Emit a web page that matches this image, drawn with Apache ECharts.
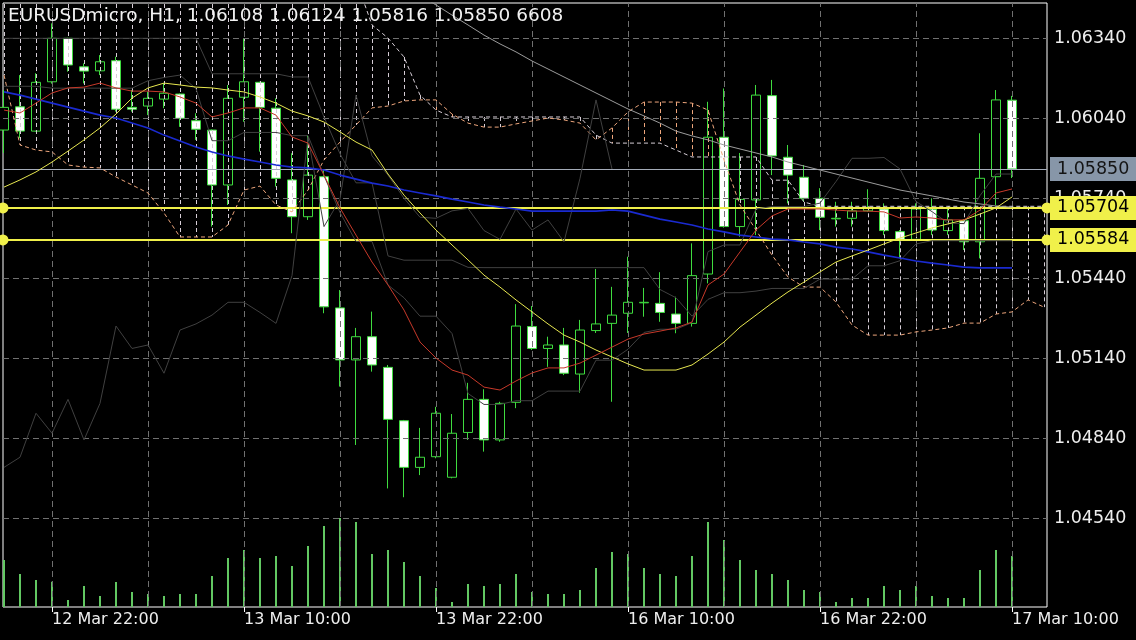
<!DOCTYPE html>
<html><head><meta charset="utf-8">
<script src="https://cdn.jsdelivr.net/npm/echarts@6/dist/echarts.min.js"></script>
<style>html,body{margin:0;padding:0;background:#000;}#c{width:1136px;height:640px;}</style>
</head><body><div id="c"></div>
<script>
// ---------- data (hourly bars, index 0..63) ----------
const symbolName = 'EURUSDmicro';
const timeframe = 'H1';
const opens = [1.05996,1.06083,1.05992,1.06177,1.06340,1.06233,1.06218,1.06256,1.06081,1.06086,
1.06112,1.06131,1.06031,1.05996,1.05790,1.06119,1.06175,1.06078,1.05809,1.05671,
1.05821,1.05329,1.05134,1.05221,1.05106,1.04906,1.04731,1.04771,1.04694,1.04862,
1.04986,1.04834,1.04975,1.05259,1.05177,1.05190,1.05081,1.05244,1.05271,1.05309,
1.05348,1.05346,1.05306,1.05271,1.05456,1.05969,1.05634,1.05734,1.06125,1.05894,
1.05819,1.05740,1.05663,1.05665,1.05693,1.05700,1.05615,1.05586,1.05699,1.05619,
1.05656,1.05577,1.05821,1.06108];
const highs = [1.06146,1.06202,1.06209,1.06396,1.06342,1.06246,1.06277,1.06271,1.06146,1.06140,
1.06171,1.06133,1.06059,1.05998,1.06165,1.06340,1.06177,1.06115,1.05909,1.05977,
1.05846,1.05396,1.05254,1.05315,1.05115,1.04909,1.04879,1.04958,1.04931,1.05048,
1.05024,1.04977,1.05343,1.05336,1.05221,1.05254,1.05284,1.05475,1.05408,1.05521,
1.05404,1.05463,1.05371,1.05571,1.06102,1.06152,1.05910,1.06165,1.06184,1.05940,
1.05865,1.05778,1.05727,1.05727,1.05774,1.05721,1.05621,1.05721,1.05740,1.05702,
1.05661,1.05984,1.06146,1.06124];
const lows = [1.05910,1.05965,1.05990,1.06170,1.06215,1.06171,1.06202,1.06065,1.06065,1.06052,
1.06078,1.06008,1.05959,1.05634,1.05715,1.06027,1.05915,1.05784,1.05609,1.05659,
1.05309,1.05034,1.04815,1.05090,1.04652,1.04619,1.04702,1.04765,1.04690,1.04834,
1.04790,1.04827,1.04953,1.05171,1.05108,1.05077,1.05011,1.05235,1.04977,1.05235,
1.05296,1.05277,1.05234,1.05259,1.05421,1.05630,1.05596,1.05602,1.05827,1.05721,
1.05727,1.05621,1.05634,1.05634,1.05690,1.05602,1.05515,1.05584,1.05602,1.05602,
1.05546,1.05515,1.05715,1.05816];
const closes = [1.06081,1.05992,1.06175,1.06340,1.06240,1.06217,1.06252,1.06074,1.06074,1.06115,
1.06134,1.06040,1.05999,1.05790,1.06115,1.06177,1.06081,1.05815,1.05671,1.05827,
1.05333,1.05134,1.05221,1.05115,1.04911,1.04731,1.04769,1.04934,1.04859,1.04986,
1.04834,1.04971,1.05261,1.05177,1.05190,1.05084,1.05246,1.05269,1.05302,1.05350,
1.05350,1.05312,1.05271,1.05450,1.05969,1.05634,1.05736,1.06127,1.05899,1.05827,
1.05740,1.05669,1.05665,1.05693,1.05702,1.05619,1.05586,1.05700,1.05621,1.05659,
1.05577,1.05815,1.06109,1.05850];
const volumes = [6091,4277,3499,3279,907,2722,1426,3240,1944,1685,
1426,1685,1685,4018,6350,7387,6350,6610,5314,7906,
10498,11534,11016,6869,7387,5832,4018,2462,648,2981,
2722,2981,4277,1944,1685,1685,2203,5054,7128,6869,
5054,4277,4018,6610,11016,8683,6091,4795,4277,3499,
2203,1944,648,1166,1166,2722,2203,2722,1426,1166,
1166,4795,7387,6608];
const maRed = [1.06071,1.06060,1.06097,1.06135,1.06154,1.06157,1.06172,1.06154,1.06142,1.06142,
1.06139,1.06120,1.06097,1.06045,1.06060,1.06079,1.06079,1.06052,1.05970,1.05947,
1.05827,1.05704,1.05602,1.05501,1.05415,1.05321,1.05201,1.05141,1.05096,1.05077,
1.05032,1.05021,1.05055,1.05085,1.05104,1.05104,1.05122,1.05152,1.05182,1.05212,
1.05231,1.05242,1.05254,1.05276,1.05415,1.05456,1.05539,1.05621,1.05674,1.05700,
1.05700,1.05700,1.05696,1.05692,1.05692,1.05689,1.05666,1.05670,1.05666,1.05659,
1.05659,1.05696,1.05760,1.05775];
const maBlue = [1.06139,1.06127,1.06112,1.06097,1.06082,1.06067,1.06052,1.06041,1.06022,1.06004,
1.05977,1.05955,1.05932,1.05914,1.05899,1.05887,1.05876,1.05865,1.05857,1.05854,
1.05846,1.05827,1.05812,1.05797,1.05786,1.05771,1.05760,1.05749,1.05737,1.05726,
1.05715,1.05707,1.05700,1.05692,1.05692,1.05692,1.05692,1.05692,1.05696,1.05692,
1.05677,1.05662,1.05651,1.05640,1.05625,1.05614,1.05602,1.05595,1.05587,1.05584,
1.05576,1.05569,1.05557,1.05550,1.05539,1.05527,1.05516,1.05505,1.05497,1.05490,
1.05482,1.05479,1.05479,1.05479];
const maYellow = [1.05782,1.05809,1.05839,1.05876,1.05917,1.05959,1.06004,1.06056,1.06116,1.06154,
1.06172,1.06165,1.06157,1.06154,1.06146,1.06139,1.06120,1.06097,1.06067,1.06049,
1.06026,1.05989,1.05951,1.05921,1.05831,1.05752,1.05685,1.05621,1.05565,1.05509,
1.05452,1.05407,1.05359,1.05314,1.05269,1.05227,1.05201,1.05171,1.05145,1.05119,
1.05096,1.05096,1.05096,1.05115,1.05156,1.05201,1.05257,1.05302,1.05347,1.05389,
1.05426,1.05464,1.05501,1.05524,1.05546,1.05569,1.05591,1.05610,1.05629,1.05644,
1.05659,1.05681,1.05704,1.05745];
const maGray = [null,null,null,null,null,null,null,null,null,null,
null,null,null,null,null,null,null,null,null,null,
null,null,null,null,1.06577,1.06540,1.06502,1.06465,1.06427,1.06390,
1.06352,1.06319,1.06289,1.06255,1.06225,1.06195,1.06165,1.06135,1.06105,1.06075,
1.06049,1.06022,1.05992,1.05974,1.05959,1.05940,1.05925,1.05910,1.05895,1.05876,
1.05861,1.05846,1.05831,1.05816,1.05801,1.05786,1.05771,1.05760,1.05749,1.05737,
1.05726,1.05719,1.05711,1.05707];
// Ichimoku lines (dark grey)
const tenkan = [1.06160,1.06160,1.06160,1.06153,1.06153,1.06153,1.06153,1.06153,1.06153,1.06181,
1.06193,1.06202,1.06151,1.05956,1.05956,1.05987,1.05987,1.05987,1.05975,1.05975,
1.05825,1.05687,1.05578,1.05578,1.05415,1.05367,1.05298,1.05298,1.05233,1.05008,
1.04967,1.04967,1.04981,1.04981,1.05017,1.05017,1.05017,1.05133,1.05133,1.05174,
1.05237,1.05249,1.05249,1.05274,1.05540,1.05565,1.05565,1.05700,1.05709,1.05709,
1.05709,1.05722,1.05803,1.05890,1.05890,1.05893,1.05850,1.05728,1.05690,1.05647,
1.05645,1.05750,1.05831,1.05831];
const kijun = [1.06340,1.06340,1.06340,1.06340,1.06340,1.06340,1.06340,1.06340,1.06340,1.06340,
1.06340,1.06340,1.06340,1.06207,1.06207,1.06207,1.06207,1.06207,1.06195,1.06195,
1.06045,1.05907,1.05798,1.05798,1.05524,1.05508,1.05508,1.05508,1.05508,1.05481,
1.05480,1.05480,1.05480,1.05480,1.05480,1.05480,1.05480,1.05480,1.05480,1.05480,
1.05480,1.05398,1.05367,1.05298,1.05361,1.05386,1.05386,1.05392,1.05402,1.05402,
1.05402,1.05437,1.05437,1.05437,1.05487,1.05487,1.05506,1.05569,1.05581,1.05581,
1.05581,1.05581,1.05581,1.05581];
// cloud spans (index 0..65, two bars beyond the last candle)
const spanA = [1.06202,1.05940,1.05921,1.05914,1.05865,1.05857,1.05854,1.05820,1.05790,1.05760,
1.05685,1.05595,1.05595,1.05595,1.05640,1.05771,1.05786,1.05715,1.05689,1.05771,
1.05884,1.05951,1.06015,1.06079,1.06086,1.06105,1.06109,1.06109,1.06056,1.06022,
1.06007,1.06007,1.06019,1.06030,1.06041,1.06034,1.06022,1.05959,1.06004,1.06064,
1.06101,1.06101,1.06101,1.06097,1.06071,1.05884,1.05715,1.05621,1.05527,1.05445,
1.05407,1.05407,1.05351,1.05265,1.05227,1.05227,1.05227,1.05239,1.05246,1.05254,
1.05272,1.05272,1.05306,1.05314,1.05359,1.05332];
const spanB = [1.06559,1.06559,1.06559,1.06559,1.06559,1.06559,1.06559,1.06559,1.06559,1.06559,
1.06559,1.06559,1.06559,1.06559,1.06559,1.06559,1.06559,1.06559,1.06559,1.06559,
1.06559,1.06559,1.06559,1.06390,1.06341,1.06270,1.06127,1.06071,1.06045,1.06045,
1.06045,1.06045,1.06045,1.06045,1.06045,1.06045,1.06045,1.05977,1.05947,1.05947,
1.05947,1.05947,1.05921,1.05895,1.05895,1.05895,1.05895,1.05895,1.05808,1.05808,
1.05726,1.05710,1.05710,1.05710,1.05710,1.05710,1.05710,1.05710,1.05710,1.05710,
1.05710,1.05710,1.05710,1.05710,1.05710,1.05710];
const chikouShift = 25;
const levels = [1.05704, 1.05584];
const priceTicks = [1.06340,1.06040,1.05740,1.05440,1.05140,1.04840,1.04540];
const gridCols = [3,9,15,21,27,33,39,45,51,57,63];
const timeTickIdx = [3,15,27,39,51,63];
const timeLabels = ['12 Mar 22:00','13 Mar 10:00','13 Mar 22:00','16 Mar 10:00','16 Mar 22:00','17 Mar 10:00'];

// ---------- chart ----------
const X_MIN = -0.0625, X_MAX = 65.1875;
const Y_MIN = 1.042074, Y_MAX = 1.064724, VOL_MAX = 78278;
const FONT = 'DejaVu Sans';
const last = opens.length - 1;
const titleText = symbolName + ', ' + timeframe + ', ' + opens[last].toFixed(5) + ' ' + highs[last].toFixed(5) + ' ' +
  lows[last].toFixed(5) + ' ' + closes[last].toFixed(5) + ' ' + volumes[last];

const candleData = opens.map((o, i) => [i, o, closes[i], lows[i], highs[i]]);
const volData = volumes.map((v, i) => [i, v]);
const pair = arr => arr.map((v, i) => [i, v]);
const cloudData = spanA.map((a, i) => [i, a, spanB[i]]);
const chikou = closes.slice(chikouShift).map((v, i) => [i, v]);

const GREEN = '#3fdc3f';
const PEACH = '#eea67c';
const THISTLE = '#d6cdd6';
const DARK = '#404040';

function lineSeries(data, color, width, z, dash) {
  return { type: 'line', data: data, showSymbol: false, symbol: 'none', z: z, silent: true,
    lineStyle: { color: color, width: width, type: dash || 'solid' }, connectNulls: false, clip: true };
}

const chart = echarts.init(document.getElementById('c'));
chart.setOption({
  backgroundColor: '#000',
  animation: false,
  grid: { left: 3, top: 3, right: 89, bottom: 33, show: true, borderColor: '#ffffff', borderWidth: 1, backgroundColor: '#000' },
  xAxis: [{
    type: 'value', min: X_MIN, max: X_MAX,
    axisLine: { show: false },
    axisTick: { show: true, customValues: timeTickIdx, length: 5, lineStyle: { color: '#fff' } },
    axisLabel: { customValues: timeTickIdx, formatter: v => timeLabels[timeTickIdx.indexOf(Math.round(v))] || '',
      color: '#eeeeee', fontSize: 16, fontFamily: FONT, align: 'left', margin: 5 },
    splitLine: { show: false }
  }],
  yAxis: [{
    type: 'value', position: 'right', min: Y_MIN, max: Y_MAX,
    axisLine: { show: false },
    axisTick: { show: true, customValues: priceTicks, length: 5, lineStyle: { color: '#fff' } },
    axisLabel: { customValues: priceTicks, formatter: v => v.toFixed(5), color: '#eeeeee', fontSize: 17.5, fontFamily: FONT, margin: 7 },
    splitLine: { show: false }
  }, {
    type: 'value', min: 0, max: VOL_MAX, show: false
  }],
  graphic: [{ type: 'text', left: 8, top: 7, z: 100, silent: true,
    style: { text: titleText, fill: '#f2f2f2', font: '18.5px "DejaVu Sans"' } }],
  series: [
    { // grid lines
      type: 'line', data: [], z: 1, silent: true,
      markLine: { silent: true, precision: 5, symbol: ['none', 'none'], label: { show: false }, animation: false,
        lineStyle: { color: '#707070', type: [6, 4], width: 1 },
        data: priceTicks.map(v => ({ yAxis: v })).concat(gridCols.map(k => ({ xAxis: k }))) }
    },
    { // volumes
      type: 'custom', yAxisIndex: 1, z: 2, silent: true, data: volData,
      renderItem: function (params, api) {
        const p0 = api.coord([api.value(0), 0]);
        const p1 = api.coord([api.value(0), api.value(1)]);
        return { type: 'rect', shape: { x: Math.round(p0[0]) - 1, y: p1[1], width: 2, height: p0[1] - p1[1] },
          style: { fill: '#62c862' } };
      }
    },
    {
      type: 'candlestick', data: candleData, encode: { x: 0, y: [1, 2, 3, 4] }, barWidth: 9, z: 3, silent: true, clip: true,
      itemStyle: { color: '#000', color0: '#fff', borderColor: GREEN, borderColor0: GREEN, borderColorDoji: GREEN, borderWidth: 1 }
    },
    { // cloud hatch
      type: 'custom', z: 4, silent: true, data: cloudData,
      renderItem: function (params, api) {
        const k = api.value(0), a = api.value(1), b = api.value(2);
        const pa = api.coord([k, a]), pb = api.coord([k, b]);
        const cs = params.coordSys;
        const y1 = Math.max(cs.y + 1, Math.min(pa[1], pb[1]));
        const y2 = Math.min(cs.y + cs.height - 1, Math.max(pa[1], pb[1]));
        if (y2 <= y1) return null;
        const x = Math.round(pa[0]) + 0.5;
        return { type: 'line', shape: { x1: x, y1: y1, x2: x, y2: y2 },
          style: { stroke: a > b ? PEACH : THISTLE, lineWidth: 1, lineDash: [4, 3] } };
      }
    },
    lineSeries(pair(spanA), PEACH, 1, 5, [4, 3]),
    lineSeries(pair(spanB), THISTLE, 1, 5, [4, 3]),
    lineSeries(chikou, DARK, 1, 5),
    lineSeries(pair(tenkan), DARK, 1, 5),
    lineSeries(pair(kijun), DARK, 1, 5),
    lineSeries(pair(maGray), '#9c9c9c', 1, 6),
    lineSeries(pair(maBlue), '#1a2ad0', 1.6, 6),
    lineSeries(pair(maYellow), '#e8e850', 1, 7),
    lineSeries(pair(maRed), '#c8392a', 1, 7),
    { // last price line
      type: 'line', data: [], z: 9, silent: true,
      markLine: { silent: true, precision: 5, symbol: ['none', 'none'], animation: false,
        lineStyle: { color: '#a4abb8', type: 'solid', width: 1 },
        label: { show: true, position: 'end', distance: 3, formatter: p => Number(p.value).toFixed(5),
          backgroundColor: '#8796a8', color: '#141414', padding: [3, 7, 3, 7], fontSize: 17.5, lineHeight: 18, fontFamily: FONT },
        data: [{ yAxis: closes[last] }] }
    },
    { // horizontal levels
      type: 'line', data: [], z: 10, silent: true,
      markLine: { silent: true, precision: 5, symbol: ['circle', 'circle'], symbolSize: 11, animation: false,
        itemStyle: { color: '#f0f04a' },
        lineStyle: { color: '#f0f04a', type: 'solid', width: 2 },
        label: { show: true, position: 'end', distance: 3, formatter: p => Number(p.value).toFixed(5),
          backgroundColor: '#f0f04a', color: '#000', padding: [3, 7, 3, 7], fontSize: 17.5, lineHeight: 18, fontFamily: FONT },
        data: levels.map(v => ({ yAxis: v })) }
    }
  ]
});
</script>
</body></html>
